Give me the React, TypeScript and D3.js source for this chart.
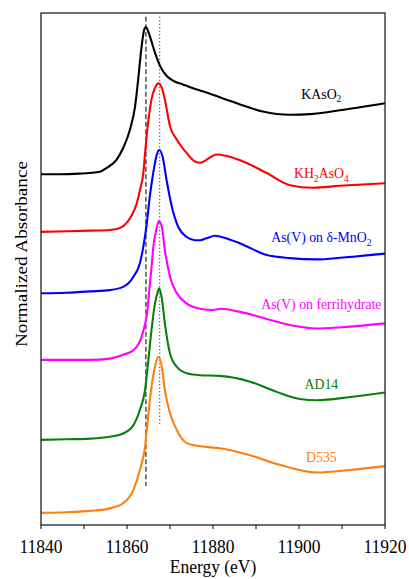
import React from "react";
import * as d3 from "d3";

// energies (eV) and stacked normalized absorbance
const energyKAsO2 = [11840, 11844.4, 11849, 11851.4, 11853.7, 11855.3, 11857.6, 11859.1, 11860.7, 11861.9, 11862.6, 11863.4, 11864.0, 11864.4, 11865.3, 11866.5, 11867.7, 11869.2, 11870.8, 11873.1, 11874.7, 11877.0, 11879.3, 11883.0, 11886.3, 11891.6, 11897.9, 11902.6, 11909.5, 11920];
const absKAsO2 = [5.48, 5.48, 5.49, 5.5, 5.52, 5.58, 5.71, 5.89, 6.18, 6.55, 6.96, 7.48, 7.74, 7.78, 7.64, 7.38, 7.17, 7.02, 6.94, 6.88, 6.84, 6.79, 6.74, 6.65, 6.57, 6.46, 6.41, 6.42, 6.48, 6.59];

const energyKH2AsO4 = [11840, 11846, 11851.4, 11856.0, 11858.4, 11859.9, 11861.1, 11862.3, 11863.0, 11863.8, 11864.2, 11864.9, 11865.7, 11866.5, 11867.3, 11868.1, 11868.8, 11870.0, 11871.6, 11873.9, 11875.8, 11877.0, 11878.1, 11880.9, 11883.0, 11886.3, 11892.5, 11897.9, 11903.3, 11909.5, 11920];
const absKH2AsO4 = [4.58, 4.59, 4.6, 4.61, 4.64, 4.72, 4.84, 5.03, 5.23, 5.5, 5.81, 6.28, 6.65, 6.83, 6.9, 6.83, 6.65, 6.23, 6.02, 5.81, 5.68, 5.66, 5.69, 5.79, 5.77, 5.7, 5.5, 5.31, 5.27, 5.3, 5.34];

const energyMnO2 = [11840, 11846, 11851.4, 11856.0, 11859.1, 11861.5, 11863.0, 11863.8, 11864.6, 11865.3, 11866.1, 11866.9, 11867.5, 11868.3, 11869.2, 11870.4, 11871.9, 11873.9, 11875.8, 11877.0, 11878.5, 11880.5, 11883.0, 11886.3, 11892.5, 11897.9, 11904.1, 11910.3, 11920];
const absMnO2 = [3.62, 3.63, 3.65, 3.67, 3.72, 3.88, 4.09, 4.35, 4.71, 5.13, 5.5, 5.78, 5.86, 5.75, 5.39, 4.98, 4.66, 4.5, 4.45, 4.45, 4.48, 4.52, 4.48, 4.4, 4.22, 4.17, 4.15, 4.18, 4.24];

const energyFerri = [11840, 11846, 11851.4, 11856.0, 11859.1, 11861.5, 11863.4, 11864.2, 11864.6, 11865.3, 11865.7, 11866.1, 11866.9, 11867.4, 11868.1, 11868.8, 11870.0, 11871.6, 11873.9, 11877.0, 11880.0, 11881.9, 11886.3, 11892.5, 11899.0, 11904.0, 11910.0, 11920];
const absFerri = [2.58, 2.58, 2.58, 2.6, 2.66, 2.73, 2.94, 3.14, 3.28, 3.75, 4.02, 4.33, 4.64, 4.75, 4.66, 4.3, 3.88, 3.62, 3.46, 3.38, 3.36, 3.38, 3.33, 3.22, 3.11, 3.07, 3.09, 3.15];

const energyAD14 = [11840, 11846, 11851.4, 11856.0, 11859.1, 11861.5, 11863.0, 11864.2, 11864.9, 11865.7, 11866.5, 11867.2, 11867.5, 11868.1, 11868.8, 11870.0, 11871.6, 11873.9, 11877.0, 11881.6, 11888.6, 11894.8, 11900.2, 11904.1, 11911.9, 11920];
const absAD14 = [1.33, 1.34, 1.35, 1.38, 1.43, 1.56, 1.8, 2.11, 2.53, 3.05, 3.46, 3.65, 3.7, 3.54, 3.15, 2.68, 2.47, 2.37, 2.34, 2.33, 2.24, 2.08, 1.97, 1.95, 2.0, 2.07];

const energyD535 = [11840, 11846, 11851.4, 11856.0, 11859.1, 11861.5, 11863.0, 11864.2, 11864.9, 11865.7, 11866.5, 11867.3, 11868.1, 11868.8, 11870.0, 11871.6, 11873.9, 11877.0, 11881.6, 11888.6, 11895.5, 11904.1, 11911.9, 11920];
const absD535 = [0.19, 0.2, 0.22, 0.26, 0.34, 0.55, 0.86, 1.22, 1.69, 2.16, 2.47, 2.63, 2.47, 2.11, 1.75, 1.48, 1.28, 1.23, 1.2, 1.09, 0.94, 0.82, 0.86, 0.92];

const xTicks = [11840, 11850, 11860, 11870, 11880, 11890, 11900, 11910, 11920];
const xTickLabels = [11840, 11860, 11880, 11900, 11920];

// reference lines (dashed As(III), dotted As(V) white line)
const refEnergies = [11864.4, 11867.6];

const series = [
  { e: energyKAsO2, v: absKAsO2, color: "#000000" },
  { e: energyKH2AsO4, v: absKH2AsO4, color: "#ff0000" },
  { e: energyMnO2, v: absMnO2, color: "#0000ff" },
  { e: energyFerri, v: absFerri, color: "#ff00ff" },
  { e: energyAD14, v: absAD14, color: "#0a800a" },
  { e: energyD535, v: absD535, color: "#ff7f0e" },
];

const FONT = "Liberation Serif, Times New Roman, DejaVu Serif, serif";
const STRETCH = 1.13;

const Sub = ({ t }: { t: string }) => (
  <tspan fontSize={9.5} dy={3}>{t}</tspan>
);
const Up = ({ t }: { t: string }) => <tspan dy={-3}>{t}</tspan>;

export default function App() {
  const left = 41, right = 385, top = 13, bottom = 525;
  const x = d3.scaleLinear().domain([11840, 11920]).range([left, right]);
  const y = d3.scaleLinear().domain([0, 8]).range([bottom, top]);
  const line = d3
    .line<[number, number]>()
    .x((d) => x(d[0]))
    .y((d) => y(d[1]))
    .curve(d3.curveMonotoneX);

  const labelX = x(11905.2);
  const labels: [number, React.ReactNode, string][] = [
    [6.66, <>KAsO<Sub t="2" /></>, "#000000"],
    [5.42, <>KH<Sub t="2" /><Up t="AsO" /><Sub t="4" /></>, "#ff0000"],
    [4.42, <>As(V) on δ-MnO<Sub t="2" /></>, "#0000ff"],
    [3.38, <>As(V) on ferrihydrate</>, "#ff00ff"],
    [2.125, <>AD14</>, "#0a800a"],
    [0.98, <>D535</>, "#ff7f0e"],
  ];

  const tf = { fontFamily: FONT };

  return (
    <svg
      width={409}
      height={579}
      style={{ position: "absolute", left: 0, top: 0, background: "#fff" }}
    >
      {/* reference lines */}
      <line x1={x(refEnergies[0])} x2={x(refEnergies[0])} y1={y(7.94)} y2={y(0.61)}
        stroke="#444" strokeWidth={1.4} strokeDasharray="5,2.5" />
      <line x1={x(refEnergies[1])} x2={x(refEnergies[1])} y1={y(7.94)} y2={y(1.56)}
        stroke="#333" strokeWidth={1.2} strokeDasharray="1,2.5" />

      {series.map((s, i) => (
        <path key={i} d={line(s.e.map((e, j) => [e, s.v[j]]) as [number, number][]) || ""}
          fill="none" stroke={s.color} strokeWidth={2.1} strokeLinejoin="round" />
      ))}

      {labels.map(([v, node, c], i) => (
        <text key={i} transform={`translate(${labelX},${y(v)}) scale(1,${STRETCH})`}
          textAnchor="middle" fontSize={13.8} fill={c} style={tf}>{node}</text>
      ))}

      {/* frame */}
      <rect x={left} y={top} width={right - left} height={bottom - top}
        fill="none" stroke="#222" strokeWidth={1.3} />

      {xTicks.map((t) => (
        <line key={t} x1={x(t)} x2={x(t)} y1={bottom} y2={bottom + 4} stroke="#222" strokeWidth={1.2} />
      ))}
      {xTickLabels.map((t) => (
        <text key={t} transform={`translate(${x(t)},553) scale(1,${STRETCH})`}
          textAnchor="middle" fontSize={17.5} fill="#000" style={tf}>{t}</text>
      ))}

      <text transform={`translate(${(left + right) / 2},573) scale(1,${STRETCH})`}
        textAnchor="middle" fontSize={17.5} fill="#000" style={tf}>Energy (eV)</text>
      <text transform={`translate(27,254) scale(1,${STRETCH}) rotate(-90)`}
        textAnchor="middle" fontSize={17} fill="#000" style={tf}>Normalized Absorbance</text>
    </svg>
  );
}
